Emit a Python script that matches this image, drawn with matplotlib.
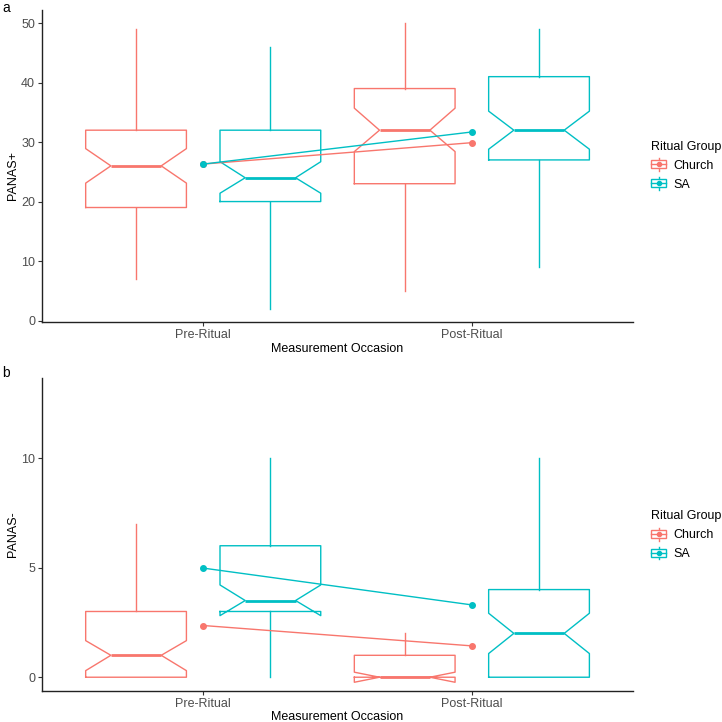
import numpy as np
import matplotlib.pyplot as plt
from matplotlib.patches import Rectangle
from matplotlib.lines import Line2D
from matplotlib.legend_handler import HandlerBase

plt.rcParams['font.family'] = ['Liberation Sans', 'DejaVu Sans']

occasions = ['Pre-Ritual', 'Post-Ritual']
groups = ['Church', 'SA']
colors = ['#F8766D', '#00BFC4']

# panel a, PANAS+ ; each list is [pre, post]
pos_church = dict(whislo=[7, 5], q1=[19, 23], med=[26, 32], q3=[32, 39],
                  whishi=[49, 50], cilo=[23.1, 28.4], cihi=[28.9, 35.7])
pos_sa = dict(whislo=[2, 9], q1=[20, 27], med=[24, 32], q3=[32, 41],
              whishi=[46, 49], cilo=[21.4, 28.8], cihi=[26.7, 35.2])
pos_mean_church = [26.3, 29.9]
pos_mean_sa = [26.3, 31.7]

# panel b, PANAS-
neg_church = dict(whislo=[0, 0], q1=[0, 0], med=[1, 0], q3=[3, 1],
                  whishi=[7, 2], cilo=[0.3, -0.23], cihi=[1.67, 0.23])
neg_sa = dict(whislo=[0, 0], q1=[3, 0], med=[3.5, 2], q3=[6, 4],
              whishi=[10, 10], cilo=[2.81, 1.08], cihi=[4.21, 2.92])
neg_mean_church = [2.36, 1.43]
neg_mean_sa = [4.98, 3.30]


class BoxKey(HandlerBase):
    # ggplot-like key: box + whiskers + median line + mean point
    def create_artists(self, legend, orig_handle, xdescent, ydescent,
                       width, height, fontsize, trans):
        c = orig_handle.get_color()
        x0, y0 = -xdescent, -ydescent
        cx, cy = x0 + width / 2, y0 + height / 2
        bh = height * 0.62
        arts = [
            Line2D([cx, cx], [y0, y0 + height], color=c, lw=1.0),
            Rectangle((x0, cy - bh / 2), width, bh, facecolor='white',
                      edgecolor=c, lw=1.0),
            Line2D([x0, x0 + width], [cy, cy], color=c, lw=1.0),
            Line2D([cx], [cy], color=c, marker='o', ms=3, ls='None'),
        ]
        for a in arts:
            a.set_transform(trans)
        return arts


def to_stats(d):
    out = []
    for i in range(len(occasions)):
        s = {k: d[k][i] for k in d}
        s['mean'] = s['med']
        s['fliers'] = []
        out.append(s)
    return out


def panel(ax, church, sa, m_church, m_sa, ylabel, ylim, yticks):
    x = np.arange(1, len(occasions) + 1)
    for stats, offs, c in [(church, -0.25, colors[0]), (sa, 0.25, colors[1])]:
        ax.bxp(to_stats(stats), positions=x + offs, widths=0.375,
               shownotches=True, showcaps=False, showfliers=False,
               boxprops=dict(color=c, lw=1.0),
               whiskerprops=dict(color=c, lw=1.0),
               medianprops=dict(color=c, lw=2.0), manage_ticks=False)
    ax.plot(x, m_church, color=colors[0], marker='o', ms=4, lw=1.0)
    ax.plot(x, m_sa, color=colors[1], marker='o', ms=4, lw=1.0)
    ax.set_xlim(0.4, 2.6)
    ax.set_ylim(*ylim)
    ax.set_xticks(x, occasions)
    ax.set_yticks(yticks)
    ax.set_xlabel('Measurement Occasion', fontsize=9, labelpad=1)
    ax.set_ylabel(ylabel, fontsize=9, labelpad=1.5)
    for s in ['top', 'right']:
        ax.spines[s].set_visible(False)
    for s in ['left', 'bottom']:
        ax.spines[s].set_color('#222222')
        ax.spines[s].set_linewidth(1.0)
    ax.tick_params(labelsize=9, labelcolor='#4D4D4D', color='#333333',
                   length=3, width=0.8, pad=2)


fig = plt.figure(figsize=(7.22, 7.22), dpi=100)
ax1 = fig.add_axes([0.0582, 0.5536, 0.8186, 0.4325])
ax2 = fig.add_axes([0.0582, 0.0429, 0.8186, 0.4334])

panel(ax1, pos_church, pos_sa, pos_mean_church, pos_mean_sa, 'PANAS+',
      (-0.3, 52.2), [0, 10, 20, 30, 40, 50])
panel(ax2, neg_church, neg_sa, neg_mean_church, neg_mean_sa, 'PANAS-',
      (-0.63, 13.65), [0, 5, 10])
ax1.yaxis.label.set_y(0.471)

fig.text(0.003, 0.989, 'a', fontsize=10, va='center', ha='left')
fig.text(0.003, 0.483, 'b', fontsize=10, va='center', ha='left')

handles = [Line2D([], [], color=c) for c in colors]

for y in [0.805, 0.293]:
    fig.legend(handles, groups, title='Ritual Group', loc='upper left',
               bbox_to_anchor=(0.902, y), frameon=False, alignment='left',
               fontsize=9, title_fontsize=9, borderpad=0, borderaxespad=0,
               handlelength=1.2, handleheight=1.2, handletextpad=0.6,
               labelspacing=0.42,
               handler_map={Line2D: BoxKey()})

fig.savefig('out.png', dpi=100)
